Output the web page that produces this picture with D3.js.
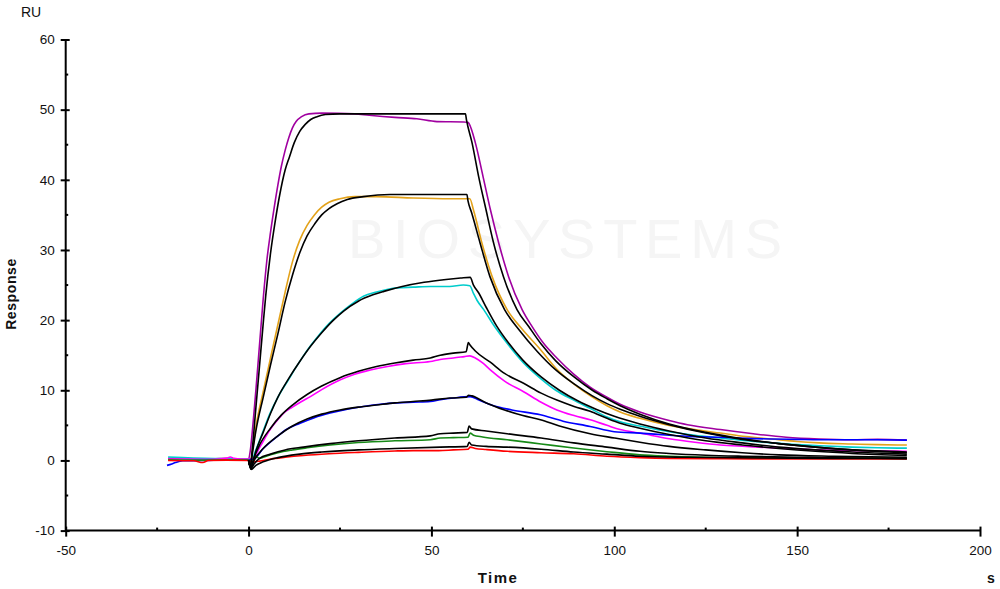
<!DOCTYPE html>
<html>
<head>
<meta charset="utf-8">
<script src="https://cdn.jsdelivr.net/npm/d3@7"></script>
<style>
  html, body { margin: 0; padding: 0; background: #fff; }
  svg { display: block; font-family: "Liberation Sans", Arial, sans-serif; }
</style>
</head>
<body>
<svg id="chart" width="1000" height="589"></svg>
<script>
// ---- data (time in s, response in RU) ----
const xTicks = [-50, 0, 50, 100, 150, 200];
const xMinorTicks = [-25, 25, 75, 125, 175];
const yTicks = [-10, 0, 10, 20, 30, 40, 50, 60];
const yMinorTicks = [-5, 5, 15, 25, 35, 45, 55];

const seriesNames = ["purple", "orange", "cyan", "magenta", "blue", "green", "red"];

const purpleData = [[-22,0.3],[-18,0.25],[-12,0.2],[-6,0.3],[-2,0.2],[0,0.2],[0.5,1.5],[1,4],[2,10],[3,16.5],[4,23],[5,28.5],[6,32.5],[7,36],[8,39.2],[9,42],[10,44.2],[11,46],[12,47.4],[13,48.3],[14.5,49],[16.5,49.4],[20,49.5],[29,49.4],[33,49.2],[40,48.9],[46,48.7],[51.5,48.3],[58.8,48.25],[60,48.2],[60.3,48.0],[62,45.3],[64.1,40.5],[66.1,35.8],[68.4,31.0],[71.1,26.2],[74.8,21.5],[77.5,19.1],[80.5,16.8],[84.3,14.6],[88.9,12.3],[93.5,10.4],[98,9.0],[101.6,8.0],[107,6.9],[110.7,6.3],[115,5.7],[120,5.1],[129,4.4],[138,3.8],[147,3.3],[156,3.05],[165,2.95],[172,3.0],[180,2.9]];
const purpleFit = [[0,0],[0.5,-0.8],[1,1.5],[2,7.5],[3,13.5],[4,19.5],[4.7,23.5],[6,29.5],[7.2,33.8],[8.5,37.8],[10,41.4],[11.2,43.3],[12.5,45.3],[14,46.9],[15.5,47.9],[17,48.6],[18.7,49.0],[21,49.3],[25,49.4],[59.3,49.4],[59.6,48.5],[61.1,45.3],[62.9,40.5],[64.9,35.8],[67,31.0],[69.7,26.2],[73.4,21.5],[76.6,19.1],[80,16.6],[84,14.2],[89,11.9],[94,10.0],[98,8.8],[101.6,7.8],[107,6.6],[115,5.2],[125,4.0],[135,3.1],[145,2.4],[155,1.9],[165,1.5],[180,1.2]];

const orangeData = [[-22,0.1],[-15,0.15],[-8,0.1],[-2,0.15],[0,0.1],[0.5,-0.3],[1,1.2],[2,4.8],[4,9.8],[6,14.6],[8,19.3],[10,24.0],[12,28.3],[14,31.4],[16,33.5],[18,35.0],[20,36.1],[22,36.8],[25,37.3],[29,37.6],[35,37.6],[45,37.4],[55,37.3],[60.5,37.3],[61.5,35.7],[63.8,31.0],[66.6,26.2],[70.7,21.5],[74.5,18.9],[79.8,15.8],[84.3,13.0],[88.9,10.9],[93.5,9.2],[98,7.8],[101.6,6.9],[107,6.0],[115,5.0],[122,4.4],[129,3.9],[136,3.4],[143,3.05],[150,2.7],[156,2.5],[165,2.35],[172,2.25],[180,2.2]];
const orangeFit = [[0,0],[0.5,-0.9],[1,0.8],[2,4.2],[4,9.0],[6,13.6],[8,18.0],[10,22.6],[12,26.4],[14,29.6],[16,32.0],[18.2,33.8],[20,35.0],[22,35.9],[24.2,36.6],[27,37.2],[31.4,37.6],[38.7,37.9],[59.7,37.9],[60,37.0],[61,35.3],[63.3,31.0],[66,26.2],[70,21.5],[74,18.6],[79,15.5],[84,12.9],[89,10.9],[94,9.2],[98,8.1],[101.6,7.3],[107,6.3],[115,5.1],[125,3.9],[135,3.0],[145,2.4],[155,1.9],[165,1.5],[180,1.1]];

const cyanData = [[-22,0.5],[-18,0.4],[-12,0.3],[-6,0.25],[-2,0.2],[0,0.2],[0.9,0.1],[2,1.5],[4,4.2],[5.9,6.75],[8,9.0],[10.9,11.5],[13,13.3],[15,14.9],[16.9,16.3],[19,17.7],[22,19.5],[25.1,21.0],[28,22.2],[31.4,23.4],[35,24.0],[40.6,24.6],[45,24.7],[49.7,24.8],[55,24.8],[58.7,25.0],[60.5,24.9],[61.5,23.8],[62.5,22.8],[64.3,21.5],[67,19.3],[70.7,16.7],[75.2,13.9],[79.8,11.7],[84,10.0],[88.9,8.6],[93.5,7.4],[98,6.2],[101.6,5.5],[107,4.9],[115,4.1],[122,3.6],[129,3.2],[136,2.8],[143,2.5],[150,2.25],[156,2.1],[165,1.9],[172,1.8],[180,1.75]];
const cyanFit = [[0,0],[0.6,-1.0],[1.2,-0.2],[2,1.3],[4,4.0],[6,6.7],[8,9.0],[11,11.7],[14,14.1],[17,16.3],[20,18.2],[23,19.9],[26,21.3],[30,22.7],[34,23.6],[37,24.1],[42,24.8],[48,25.4],[54,25.8],[58,26.0],[60.6,26.1],[61.5,25.0],[62.9,23.9],[65,21.8],[67.9,19.1],[71,16.8],[75,14.3],[80,11.9],[85,10.0],[90,8.5],[95,7.3],[100,6.3],[107,5.2],[115,4.2],[125,3.2],[135,2.5],[145,1.9],[155,1.5],[165,1.2],[180,0.9]];

const magentaData = [[-22,0.2],[-16,0.2],[-10,0.15],[-6,0.3],[-5,0.5],[-4,0.3],[-2,0.2],[0,0.2],[1.2,0.3],[3.2,2.0],[5.9,4.4],[7.5,5.5],[9.6,6.75],[12,7.6],[14.5,8.4],[16.9,9.1],[20,10.1],[25.1,11.5],[29,12.3],[33.3,12.9],[38,13.4],[43,13.8],[49.7,14.1],[52.4,14.4],[56,14.6],[59,14.8],[60.5,14.9],[62,14.6],[64,13.9],[66.1,12.9],[70,11.3],[75.2,9.8],[80,8.3],[84.3,7.2],[89,6.4],[93.4,5.8],[98,5.0],[101.6,4.4],[107,3.9],[115,3.1],[122,2.6],[129,2.2],[136,2.0],[143,1.8],[150,1.65],[156,1.5],[165,1.4],[172,1.35],[180,1.3]];
const magentaFit = [[0,0],[0.6,-1.1],[1.5,0.4],[3,2.2],[6,4.6],[9,6.5],[12,7.9],[16,9.4],[20,10.6],[25,11.8],[30,12.7],[35,13.4],[40,13.9],[45,14.3],[49.7,14.6],[52.4,15.0],[56,15.3],[59.5,15.5],[60.1,16.8],[60.5,16.5],[62,15.6],[66.1,14.0],[70,12.4],[75.2,11.0],[80,9.6],[84.3,8.6],[89,7.7],[93.4,7.0],[98,6.0],[101.6,5.3],[107,4.6],[115,3.7],[125,2.8],[135,2.2],[145,1.7],[155,1.3],[165,1.0],[180,0.7]];

const blueData = [[-22.3,-0.7],[-21,-0.5],[-20,-0.3],[-18,-0.05],[-12,0],[-6,0.1],[-2,0.1],[0,0.1],[1.4,0.2],[4,1.7],[7.8,3.4],[10,4.3],[14.1,5.3],[18,6.1],[22.3,6.75],[27,7.3],[31.4,7.7],[36,8.0],[40.6,8.2],[45,8.3],[49.7,8.4],[52.4,8.65],[56,8.9],[60.6,9.1],[63,8.6],[67,7.8],[72,7.2],[79.8,6.5],[86,5.6],[93.4,4.85],[100,4.1],[107,3.9],[115,3.6],[122,3.4],[129,3.3],[136,3.15],[142.7,3.05],[150,3.0],[156,2.95],[165,2.95],[172,2.95],[180,2.9]];
const blueFit = [[0,0],[0.6,-1.0],[1.5,0.0],[4,1.7],[8,3.5],[12,4.9],[16,5.9],[20,6.6],[25,7.2],[30,7.6],[35,7.9],[40,8.2],[45,8.4],[50,8.6],[55,8.9],[59.5,9.0],[60.2,9.3],[61.1,9.2],[65,8.2],[70,7.2],[75,6.4],[79.8,5.8],[85,4.9],[93.4,3.8],[100,3.2],[107,2.6],[115,2.0],[125,1.5],[135,1.1],[145,0.8],[160,0.6],[180,0.45]];

const greenData = [[-22,0.1],[-12,0.05],[-4,0.1],[0,0.05],[1,-0.3],[2,0.6],[3,0.3],[4,0.45],[6,0.8],[8,1.1],[12,1.5],[16,1.8],[22.3,2.2],[30,2.55],[40,2.8],[49.7,2.95],[52.4,3.2],[56,3.25],[60,3.3],[60.6,3.9],[61.5,3.6],[64,3.35],[70.7,2.95],[80,2.35],[88.9,1.77],[98,1.25],[107,0.8],[115,0.6],[125,0.45],[135,0.4],[150,0.35],[165,0.35],[180,0.35]];
const greenFit = [[0,0],[0.6,-1.2],[1.5,-0.5],[3,0.3],[6,0.9],[10,1.5],[15,1.9],[22.3,2.4],[30,2.8],[40,3.2],[49.7,3.5],[52.4,3.8],[56,3.9],[59.8,4.0],[60.3,4.9],[61,4.5],[65,4.2],[70.7,3.8],[80,3.2],[88.9,2.5],[98,1.9],[107,1.3],[115,1.0],[125,0.75],[135,0.6],[150,0.45],[165,0.35],[180,0.3]];

const redData = [[-22,0.0],[-15,-0.05],[-12.5,-0.3],[-11,0],[-6,0.05],[0,0],[1,-0.2],[3,-0.1],[6,0.2],[10,0.45],[15,0.7],[22,0.95],[30,1.15],[40,1.35],[45,1.4],[52,1.4],[56,1.5],[60,1.6],[60.6,1.9],[62,1.7],[65,1.55],[70.7,1.3],[80,1.1],[88.9,0.95],[98,0.6],[107,0.4],[115,0.3],[130,0.25],[150,0.2],[165,0.2],[180,0.2]];
const redFit = [[0,0],[0.7,-1.3],[2,-0.7],[4,-0.2],[8,0.4],[14,0.9],[20,1.2],[30,1.5],[40,1.7],[52.4,1.9],[59.8,2.0],[60.3,2.6],[61,2.2],[65,2.0],[70.7,1.9],[80,1.6],[88.9,1.2],[98,0.9],[107,0.6],[120,0.45],[140,0.35],[160,0.3],[180,0.25]];

const dataSeries = [purpleData, orangeData, cyanData, magentaData, blueData, greenData, redData];
const fitSeries = [purpleFit, orangeFit, cyanFit, magentaFit, blueFit, greenFit, redFit];
const seriesColors = ["#a000a0", "#e3a21a", "#00cccc", "#ff00ff", "#0000ff", "#178a17", "#ff0000"];

// ---- layout ----
const svg = d3.select("#chart");
const x = d3.scaleLinear().domain([-50, 200]).range([65.7, 980]);
const y = d3.scaleLinear().domain([-10, 60]).range([530.6, 39.5]);

// watermark
svg.append("text")
  .attr("x", 348).attr("y", 258)
  .attr("textLength", 434).attr("lengthAdjust", "spacing")
  .attr("font-size", 56).attr("fill", "#f5f5f5")
  .attr("font-family", "'Liberation Sans', Arial, sans-serif")
  .text("BIOSYSTEMS");

// ---- lines ----
const line = d3.line().x(d => x(d[0])).y(d => y(d[1])).curve(d3.curveMonotoneX);
const gLines = svg.append("g");
dataSeries.forEach((s, i) => {
  gLines.append("path").datum(s)
    .attr("d", line).attr("fill", "none")
    .attr("stroke", seriesColors[i]).attr("stroke-width", 1.6)
    .attr("stroke-linejoin", "round");
});
fitSeries.forEach((s) => {
  gLines.append("path").datum(s)
    .attr("d", line).attr("fill", "none")
    .attr("stroke", "#000").attr("stroke-width", 1.6)
    .attr("stroke-linejoin", "round");
});

// ---- axes ----
const fmt = d => String(d);
const yAxis = svg.append("g").attr("transform", `translate(${x(-50)},0)`)
  .call(d3.axisLeft(y).tickValues(yTicks).tickFormat(fmt).tickSize(0).tickPadding(11));
yAxis.select(".domain").attr("stroke", "#000").attr("stroke-width", 2).attr("d", `M0,${y(60)}V${y(-10)}`);
yAxis.selectAll(".tick line").attr("x1", 4).attr("x2", -5).attr("stroke", "#000").attr("stroke-width", 2);
yAxis.selectAll(".tick text").attr("font-size", 13.5).attr("fill", "#111")
  .attr("font-family", "'Liberation Sans', Arial, sans-serif");
yAxis.selectAll(".minor").data(yMinorTicks).enter().append("line")
  .attr("x1", 0).attr("x2", 2.5).attr("y1", d => y(d)).attr("y2", d => y(d))
  .attr("stroke", "#000").attr("stroke-width", 2);

const xAxis = svg.append("g").attr("transform", `translate(0,${y(-10)})`)
  .call(d3.axisBottom(x).tickValues(xTicks).tickFormat(fmt).tickSize(0).tickPadding(15));
xAxis.select(".domain").attr("stroke", "#000").attr("stroke-width", 2).attr("d", `M${x(-50)},0H${x(200)}`);
xAxis.selectAll(".tick line").attr("y1", -4).attr("y2", 6).attr("stroke", "#000").attr("stroke-width", 2);
xAxis.selectAll(".tick text").attr("font-size", 13.5).attr("fill", "#111")
  .attr("font-family", "'Liberation Sans', Arial, sans-serif");
xAxis.selectAll(".minor").data(xMinorTicks).enter().append("line")
  .attr("x1", d => x(d)).attr("x2", d => x(d)).attr("y1", 0).attr("y2", -3)
  .attr("stroke", "#000").attr("stroke-width", 2);

// ---- axis titles ----
svg.append("text").attr("x", 21).attr("y", 16.5)
  .attr("font-size", 14).attr("fill", "#111").text("RU");
svg.append("text")
  .attr("transform", "translate(16,294) rotate(-90)")
  .attr("text-anchor", "middle").attr("font-size", 14).attr("font-weight", "bold")
  .attr("letter-spacing", 0.6).attr("fill", "#111").text("Response");
svg.append("text").attr("x", 498).attr("y", 583)
  .attr("text-anchor", "middle").attr("font-size", 15).attr("font-weight", "bold")
  .attr("letter-spacing", 1.5).attr("fill", "#111").text("Time");
svg.append("text").attr("x", 991).attr("y", 583)
  .attr("text-anchor", "middle").attr("font-size", 14).attr("font-weight", "bold")
  .attr("fill", "#111").text("s");
</script>
</body>
</html>
